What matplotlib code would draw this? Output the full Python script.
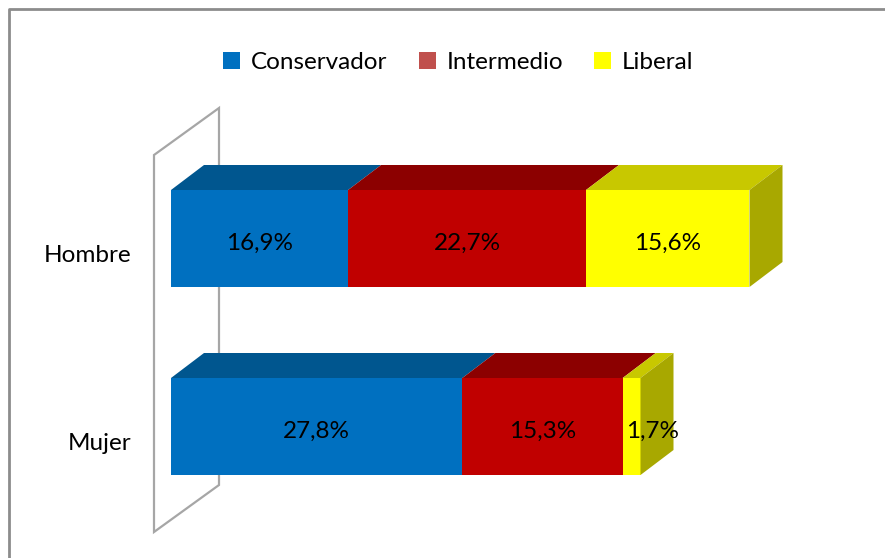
import matplotlib
matplotlib.use('Agg')
import matplotlib.pyplot as plt
from matplotlib.patches import Polygon, Patch
from matplotlib.lines import Line2D

categories = ['Mujer', 'Hombre']
series = ['Conservador', 'Intermedio', 'Liberal']
values = {
    'Conservador': [27.8, 16.9],
    'Intermedio': [15.3, 22.7],
    'Liberal': [1.7, 15.6],
}
labels = {
    'Conservador': ['27,8%', '16,9%'],
    'Intermedio': ['15,3%', '22,7%'],
    'Liberal': ['1,7%', '15,6%'],
}

front = {'Conservador': '#0070C0', 'Intermedio': '#C00000', 'Liberal': '#FFFF00'}
top = {'Conservador': '#00568F', 'Intermedio': '#8C0000', 'Liberal': '#C8C800'}
side = {'Conservador': '#004A7A', 'Intermedio': '#7A0000', 'Liberal': '#A8A800'}
legend_col = {'Conservador': '#0070C0', 'Intermedio': '#C0504D', 'Liberal': '#FFFF00'}

W, H = 885, 558
ppx = 10.48          # pixels per percent
ppy = 188.0          # pixels per category step
x0_px, y0_px = 171, 426.5
dx, dy = 33 / ppx, 25 / ppy   # 3d depth offset
bh = 97 / ppy

fig = plt.figure(figsize=(W / 100, H / 100), dpi=100)
ax = fig.add_axes([0, 0, 1, 1])
ax.set_xlim(-x0_px / ppx, (W - x0_px) / ppx)
ax.set_ylim((y0_px - H) / ppy, y0_px / ppy)
ax.axis('off')

font = 'Lato'
fs = 17.5

# back wall
wf, wb = -17 / ppx, 48 / ppx
wall = [(wf, (y0_px - 532) / ppy), (wf, (y0_px - 155) / ppy),
        (wb, (y0_px - 108) / ppy), (wb, (y0_px - 485) / ppy)]
ax.add_patch(Polygon(wall, closed=True, fill=False, ec='#A6A6A6', lw=1.6, zorder=1))

ypos = range(len(categories))
left = [0.0] * len(categories)
for s in series:
    v = values[s]
    ax.barh(list(ypos), v, left=left, height=bh, color=front[s], zorder=3)
    for i, y in enumerate(ypos):
        a, b = left[i], left[i] + v[i]
        yt = y + bh / 2
        ax.add_patch(Polygon([(a, yt), (b, yt), (b + dx, yt + dy), (a + dx, yt + dy)],
                             closed=True, color=top[s], lw=0, zorder=2))
        tx = (a + b) / 2
        if v[i] < 5:
            tx += dx * 0.65
        ax.text(tx, y - 0.025, labels[s][i], ha='center', va='center',
                fontsize=fs, family=font, color='black', zorder=5)
    left = [l + x for l, x in zip(left, v)]

# right side faces of the last segment
for i, y in enumerate(ypos):
    e = left[i]
    yb, yt = y - bh / 2, y + bh / 2
    ax.add_patch(Polygon([(e, yb), (e, yt), (e + dx, yt + dy), (e + dx, yb + dy)],
                         closed=True, color=side[series[-1]], lw=0, zorder=4))

for i, c in enumerate(categories):
    ax.text(-40 / ppx, i - 0.09, c, ha='right', va='center', fontsize=fs, family=font)

handles = [Patch(facecolor=legend_col[s], edgecolor='none', label=s) for s in series]
fig.legend(handles=handles, loc='center', bbox_to_anchor=(0.518, 0.888), ncol=3,
           frameon=False, prop={'family': font, 'size': fs}, handlelength=0.7,
           handleheight=0.7, handletextpad=0.45, columnspacing=1.27)

# chart border (top and left edges visible)
fig.add_artist(Line2D([8.5 / W, 8.5 / W, 1], [0, 1 - 8.5 / H, 1 - 8.5 / H],
                      transform=fig.transFigure, color='#8C8C8C', lw=2))

fig.savefig('out.png', dpi=100)
